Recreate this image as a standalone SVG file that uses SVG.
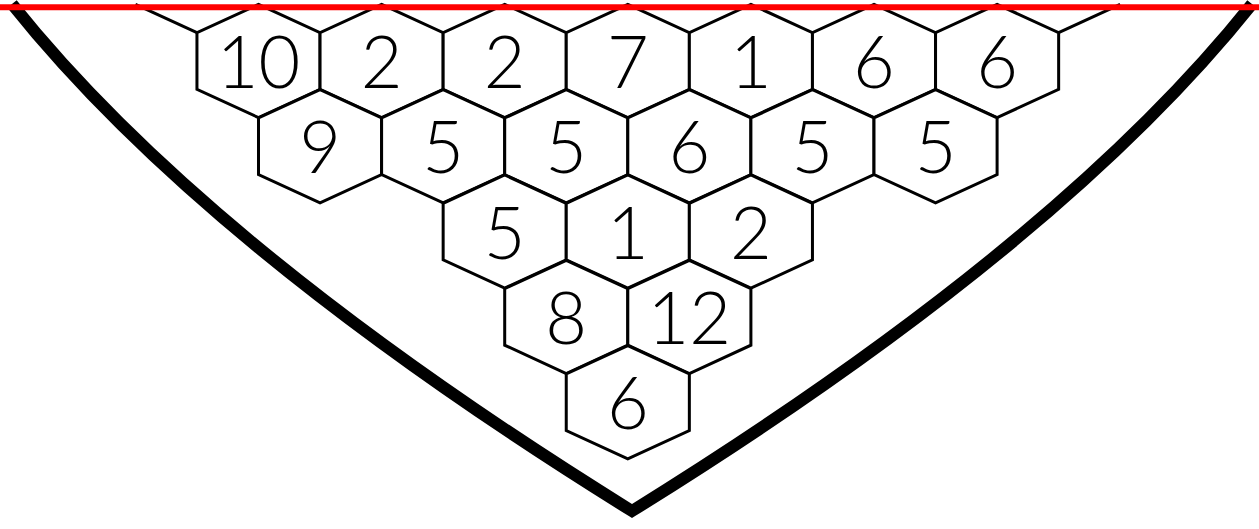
<svg xmlns="http://www.w3.org/2000/svg" xmlns:xlink="http://www.w3.org/1999/xlink" width="1259" height="529" viewBox="0 0 1259 529">
<style>
.hex{fill:#fff;stroke:#000;stroke-width:3;stroke-linejoin:miter}
.num{font-family:Lato,"Liberation Sans",sans-serif;font-weight:300;font-size:72px;text-anchor:middle;fill:#000}
.edge{fill:none;stroke:#000;stroke-width:3}
.frame{fill:none;stroke:#000;stroke-width:12;stroke-linejoin:miter}
.top{stroke:#ff0000;stroke-width:6}
</style>
<defs>
<polygon id="hx" points="0,-56.6 61.55,-28.3 61.55,28.3 0,56.6 -61.55,28.3 -61.55,-28.3"/>
</defs>
<rect width="1259" height="529" fill="#fff"/>
<g id="frame">
<path class="frame" d="M 12,4 Q 206,247 632,511 Q 1058,247 1252,4"/>
</g>
<g id="connectors">
<line class="edge" x1="135.45" y1="4.4" x2="196.95" y2="32.7"/>
<line class="edge" x1="1058.65" y1="32.7" x2="1120.15" y2="4.4"/>
</g>
<g id="r1c1"><use xlink:href="#hx" class="hex" x="258.5" y="61"/><text class="num" x="258.5" y="88">10</text></g>
<g id="r1c2"><use xlink:href="#hx" class="hex" x="381.6" y="61"/><text class="num" x="381.6" y="88">2</text></g>
<g id="r1c3"><use xlink:href="#hx" class="hex" x="504.7" y="61"/><text class="num" x="504.7" y="88">2</text></g>
<g id="r1c4"><use xlink:href="#hx" class="hex" x="627.8" y="61"/><text class="num" x="627.8" y="88">7</text></g>
<g id="r1c5"><use xlink:href="#hx" class="hex" x="750.9" y="61"/><text class="num" x="750.9" y="88">1</text></g>
<g id="r1c6"><use xlink:href="#hx" class="hex" x="874" y="61"/><text class="num" x="874" y="88">6</text></g>
<g id="r1c7"><use xlink:href="#hx" class="hex" x="997.1" y="61"/><text class="num" x="997.1" y="88">6</text></g>
<g id="r2c1"><use xlink:href="#hx" class="hex" x="320.05" y="146.3"/><text class="num" x="320.05" y="173.3">9</text></g>
<g id="r2c2"><use xlink:href="#hx" class="hex" x="443.15" y="146.3"/><text class="num" x="443.15" y="173.3">5</text></g>
<g id="r2c3"><use xlink:href="#hx" class="hex" x="566.25" y="146.3"/><text class="num" x="566.25" y="173.3">5</text></g>
<g id="r2c4"><use xlink:href="#hx" class="hex" x="689.35" y="146.3"/><text class="num" x="689.35" y="173.3">6</text></g>
<g id="r2c5"><use xlink:href="#hx" class="hex" x="812.45" y="146.3"/><text class="num" x="812.45" y="173.3">5</text></g>
<g id="r2c6"><use xlink:href="#hx" class="hex" x="935.55" y="146.3"/><text class="num" x="935.55" y="173.3">5</text></g>
<g id="r3c1"><use xlink:href="#hx" class="hex" x="504.7" y="231.6"/><text class="num" x="504.7" y="258.6">5</text></g>
<g id="r3c2"><use xlink:href="#hx" class="hex" x="627.8" y="231.6"/><text class="num" x="627.8" y="258.6">1</text></g>
<g id="r3c3"><use xlink:href="#hx" class="hex" x="750.9" y="231.6"/><text class="num" x="750.9" y="258.6">2</text></g>
<g id="r4c1"><use xlink:href="#hx" class="hex" x="566.25" y="316.9"/><text class="num" x="566.25" y="343.9">8</text></g>
<g id="r4c2"><use xlink:href="#hx" class="hex" x="689.35" y="316.9"/><text class="num" x="689.35" y="343.9">12</text></g>
<g id="r5c1"><use xlink:href="#hx" class="hex" x="627.8" y="402.2"/><text class="num" x="627.8" y="429.2">6</text></g>
<g id="topline"><line class="top" x1="0" y1="7.3" x2="1259" y2="7.3"/></g>
</svg>
